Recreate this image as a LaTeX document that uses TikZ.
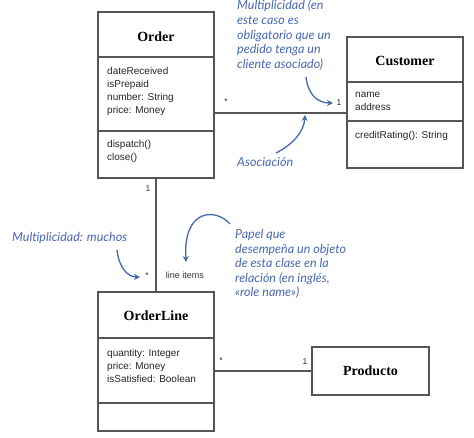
\documentclass[tikz,border=0pt]{standalone}
\usepackage{fontspec}
\setmainfont{Liberation Serif}
\setsansfont{Liberation Sans}
\newfontfamily\handfont{Lato Italic}
\usetikzlibrary{arrows.meta}
\definecolor{boxgray}{RGB}{85,85,85}
\definecolor{notecol}{RGB}{72,104,178}
\tikzset{
  classbox/.style={draw=boxgray, line width=1.6pt, rectangle, inner sep=0pt},
  divider/.style={draw=boxgray, line width=1.6pt},
  conn/.style={draw=boxgray, line width=1.2pt},
  cname/.style={font=\fontsize{14}{16}\selectfont\bfseries, text=black},
  attrs/.style={font=\sffamily\fontsize{10}{13}\selectfont, align=left, anchor=north west, inner sep=0pt, text=black!85},
  mult/.style={font=\sffamily\fontsize{8.5}{10}\selectfont, text=black!80, inner sep=0pt},
  note/.style={font=\handfont\fontsize{12.5}{14.6}\selectfont, text=notecol, align=left, anchor=north west, inner sep=0pt},
  notearrow/.style={draw=notecol, line width=1.3pt, -{Stealth[length=6pt,width=6pt]}},
}
\begin{document}
\begin{tikzpicture}[x=1pt,y=-1pt]
\useasboundingbox (0,0) rectangle (474,437);
\fill[white] (0,0) rectangle (474,437);

% Order
\node[classbox, minimum width=116pt, minimum height=166pt] (order) at (156,95) {};
\draw[divider] (98,57) -- (214,57);
\draw[divider] (98,131) -- (214,131);
\node[cname] (ordertitle) at (156,37) {Order};
\node[attrs] (orderattrs) at (107,67) {dateReceived\\isPrepaid\\number: String\\price: Money};
\node[attrs] (orderops) at (107,140) {dispatch()\\close()};

% Customer
\node[classbox, minimum width=116pt, minimum height=131pt] (customer) at (405,102.5) {};
\draw[divider] (347,82) -- (463,82);
\draw[divider] (347,121) -- (463,121);
\node[cname] (custtitle) at (405,61) {Customer};
\node[attrs] (custattrs) at (355,92) {name\\address};
\node[attrs] (custops) at (355,131) {creditRating(): String};

% OrderLine
\node[classbox, minimum width=116pt, minimum height=139pt] (orderline) at (156,361.5) {};
\draw[divider] (98,338) -- (214,338);
\draw[divider] (98,403) -- (214,403);
\node[cname] (oltitle) at (156,316) {OrderLine};
\node[attrs] (olattrs) at (107,349) {quantity: Integer\\price: Money\\isSatisfied: Boolean};

% Producto
\node[classbox, minimum width=117pt, minimum height=48pt, cname] (producto) at (370.5,371) {Producto};

% connectors
\coordinate (assocy) at (0,113);
\draw[conn] (order.east |- assocy) -- (customer.west |- assocy);
\draw[conn] (order.south) -- (orderline.north);
\draw[conn] (orderline.east |- producto.west) -- (producto.west);

% multiplicities
\node[mult] (m1) at (226,102) {*};
\node[mult] (m2) at (339,103) {1};
\node[mult] (m3) at (148,189) {1};
\node[mult] (m4) at (147,276) {*};
\node[mult, font=\sffamily\fontsize{9}{10}\selectfont] (role) at (185,275) {line items};
\node[mult] (m5) at (221,361) {*};
\node[mult] (m6) at (305,362) {1};

% notes
\node[note] (n1) at (237,0) {Multiplicidad (en\\este caso es\\obligatorio que un\\pedido tenga un\\cliente asociado)};
\node[note] (n2) at (237,157) {Asociación};
\node[note] (n3) at (12,232) {Multiplicidad: muchos};
\node[note] (n4) at (235,229) {Papel que\\desempeña un objeto\\de esta clase en la\\relación (en inglés,\\«role name»)};

\coordinate (a1s) at (306,77);
\coordinate (a1e) at (333,103);
\draw[notearrow] (a1s) .. controls (308,95) and (318,103) .. (a1e);
\coordinate (a2s) at (276,153);
\coordinate (a2e) at (305,115);
\draw[notearrow] (a2s) .. controls (292,145) and (304,132) .. (a2e);
\coordinate (a3s) at (117,250);
\coordinate (a3e) at (140,277);
\draw[notearrow] (a3s) .. controls (119,268) and (128,277) .. (a3e);
\coordinate (a4s) at (230,224);
\coordinate (a4e) at (186,262);
\draw[notearrow] (a4s) .. controls (216,208) and (183,208) .. (a4e);
\end{tikzpicture}
\end{document}
